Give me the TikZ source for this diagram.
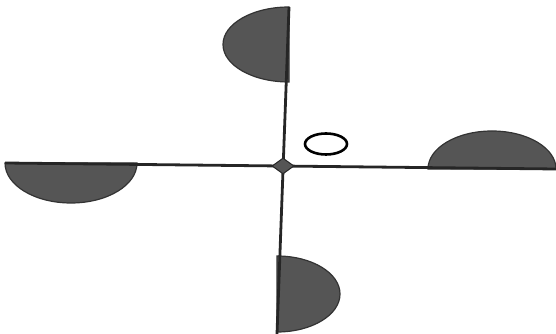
\documentclass[tikz,border=0pt]{standalone}
\usepackage{tikz}
\usetikzlibrary{shapes.geometric}
\definecolor{vane}{RGB}{85,85,85}
\tikzset{
    axis/.style = {
        line width=2.8pt, draw=black!85
    },
    halfdisk/.style = {
        fill=vane, draw=black!80, line width=1.2pt
    },
    hub/.style = {
        diamond, fill=vane, draw=black!85, line width=1pt,
        minimum width=22pt, minimum height=16pt, inner sep=0pt
    },
    marker/.style = {
        ellipse, draw=black, line width=2.6pt,
        minimum width=42pt, minimum height=21pt, inner sep=0pt
    }
}

\begin{document}
\begin{tikzpicture}[x=1pt, y=1pt]
\useasboundingbox (0,0) rectangle (556,334);

% arm ends
\coordinate (west) at (5,171);
\coordinate (east) at (556,165);
\coordinate (north) at (289,327);
\coordinate (south) at (277,0);

% vanes
\fill [halfdisk] (north) arc [start angle=90, end angle=270, x radius=66, y radius=37.5] -- cycle;
\fill [halfdisk] (west) arc [start angle=180, end angle=360, x radius=66, y radius=40] -- cycle;
\fill [halfdisk] (556,165) arc [start angle=0, end angle=180, x radius=64, y radius=38] -- cycle;
\fill [halfdisk] (277,78) arc [start angle=90, end angle=-90, x radius=63, y radius=38] -- cycle;

% arms
\draw [axis] (west) -- (east);
\draw [axis] (north) -- (south);

\node (centre) [hub] at (283,168) {};
\node (ring) [marker] at (326,190) {};

\end{tikzpicture}
\end{document}
